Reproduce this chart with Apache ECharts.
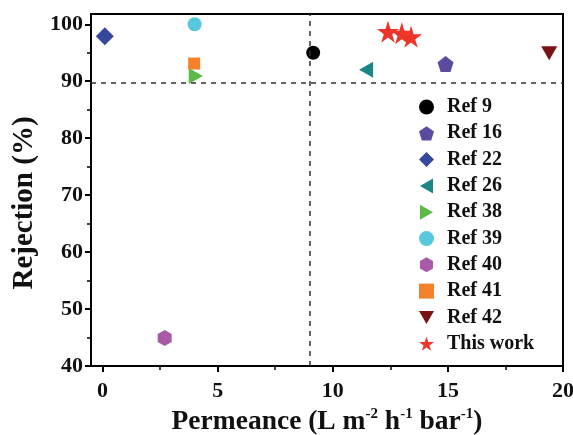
<!DOCTYPE html>
<html>
<head>
<meta charset="utf-8">
<script src="https://cdn.jsdelivr.net/npm/echarts@6/dist/echarts.min.js"></script>
<style>
html,body{margin:0;padding:0;background:#fff;}
#chart{width:573px;height:435px;}
</style>
</head>
<body>
<div id="chart"></div>
<script>
// ---- data (permeance, rejection) ----
const seriesNames = ['Ref 9','Ref 16','Ref 22','Ref 26','Ref 38','Ref 39','Ref 40','Ref 41','Ref 42','This work'];
const ref9  = [[9.15, 95.0]];
const ref16 = [[14.9, 93.0]];
const ref22 = [[0.1, 97.9]];
const ref26 = [[11.45, 92.0]];
const ref38 = [[4.05, 90.9]];
const ref39 = [[4.0, 100.0]];
const ref40 = [[2.7, 44.9]];
const ref41 = [[3.98, 93.1]];
const ref42 = [[19.4, 94.9]];
const thisWork = [[12.4, 98.7], [13.0, 98.4], [13.4, 97.8]];
const xTicks = [0, 5, 10, 15, 20];
const xMinorTicks = [2.5, 7.5, 12.5, 17.5];
const yTicks = [40, 50, 60, 70, 80, 90, 100];
const yMinorTicks = [45, 55, 65, 75, 85, 95];
const refLineX = 9;
const refLineY = 89.7;

// ---- styling ----
const FONT = 'Liberation Serif';
const P_STAR = 'path://M100,0 L122.45,69.1 L195.1,69.1 L136.3,111.8 L158.8,180.9 L100,138.2 L41.2,180.9 L63.7,111.8 L4.9,69.1 L77.55,69.1 Z';
const P_PENT = 'path://M100,0 L195.1,69.1 L158.8,180.9 L41.2,180.9 L4.9,69.1 Z';
const P_HEX = 'path://M100,0 L186.6,50 L186.6,150 L100,200 L13.4,150 L13.4,50 Z';
const P_LEFT = 'path://M0,100 L173,0 L173,200 Z';
const P_RIGHT = 'path://M0,0 L173,100 L0,200 Z';
const P_DOWN = 'path://M0,0 L200,0 L100,173 Z';

const defs = [
  {data: ref9,  symbol: 'circle',  size: 14, color: '#000000'},
  {data: ref16, symbol: P_PENT,    size: 16, color: '#5b4a9e'},
  {data: ref22, symbol: 'diamond', size: 18, color: '#34499c'},
  {data: ref26, symbol: P_LEFT,    size: [14, 16], color: '#1b8784'},
  {data: ref38, symbol: P_RIGHT,   size: [14, 16], color: '#5cbb46'},
  {data: ref39, symbol: 'circle',  size: 14, color: '#58c8dc'},
  {data: ref40, symbol: P_HEX,     size: [14, 16], color: '#a95aa6'},
  {data: ref41, symbol: 'rect',    size: 12, color: '#f5822a'},
  {data: ref42, symbol: P_DOWN,    size: [16, 14], color: '#7a1214'},
  {data: thisWork, symbol: P_STAR, size: 22, color: '#ef3529'}
];

const series = defs.map((d, i) => ({
  name: seriesNames[i],
  type: 'scatter',
  xAxisIndex: 0,
  yAxisIndex: 0,
  data: d.data,
  symbol: d.symbol,
  symbolSize: d.size,
  itemStyle: {color: d.color, opacity: 1},
  z: 3
}));
series[0].markLine = {
  silent: true,
  symbol: ['none', 'none'],
  label: {show: false},
  lineStyle: {color: '#333', type: [5, 5], width: 1.5},
  data: [{xAxis: refLineX}, {yAxis: refLineY}]
};

const X_MIN = -0.5, X_MAX = 20, Y_MIN = 40, Y_MAX = 101.8;
const labelFont = {fontFamily: FONT, fontWeight: 'bold', fontSize: 22, color: '#111'};

const chart = echarts.init(document.getElementById('chart'), null, {renderer: 'canvas'});
chart.setOption({
  animation: false,
  backgroundColor: '#fff',
  grid: {left: 91, right: 10, top: 14, bottom: 69, show: true, borderColor: '#000', borderWidth: 2,
         backgroundColor: 'transparent', containLabel: false, outerBoundsMode: 'none'},
  legend: {
    orient: 'vertical',
    left: 414,
    top: 92,
    itemWidth: 15,
    itemHeight: 15,
    itemGap: 6.3,
    data: seriesNames,
    textStyle: {fontFamily: FONT, fontWeight: 'bold', fontSize: 20, color: '#111', lineHeight: 20, padding: [0, 0, 0, 8]}
  },
  xAxis: [{
    type: 'value',
    min: X_MIN,
    max: X_MAX,
    name: 'Permeance (L m{s|-2} h{s|-1} bar{s|-1})',
    nameLocation: 'middle',
    nameGap: 37,
    nameTextStyle: {
      fontFamily: FONT, fontWeight: 'bold', fontSize: 27.5, color: '#111',
      rich: {s: {fontFamily: FONT, fontWeight: 'bold', fontSize: 15, color: '#111', verticalAlign: 'top', padding: [0, 0, 14, 0]}}
    },
    axisLine: {show: true, onZero: false, lineStyle: {color: '#000', width: 2}},
    axisTick: {show: true, inside: false, length: 6, customValues: xTicks, lineStyle: {color: '#000', width: 2}},
    axisLabel: Object.assign({margin: 14, customValues: xTicks}, labelFont),
    splitLine: {show: false}
  }, {
    type: 'value',
    min: X_MIN,
    max: X_MAX,
    position: 'bottom',
    axisLine: {show: false, onZero: false},
    axisTick: {show: true, inside: false, length: 4, customValues: xMinorTicks, lineStyle: {color: '#000', width: 1.5}},
    axisLabel: {show: false},
    splitLine: {show: false}
  }],
  yAxis: [{
    type: 'value',
    min: Y_MIN,
    max: Y_MAX,
    name: 'Rejection (%)',
    nameLocation: 'middle',
    nameGap: 52,
    nameTextStyle: {fontFamily: FONT, fontWeight: 'bold', fontSize: 29, color: '#111', padding: [0, 26, 0, 0]},
    axisLine: {show: true, onZero: false, lineStyle: {color: '#000', width: 2}},
    axisTick: {show: true, inside: false, length: 6, customValues: yTicks, lineStyle: {color: '#000', width: 2}},
    axisLabel: Object.assign({margin: 8, customValues: yTicks}, labelFont),
    splitLine: {show: false}
  }, {
    type: 'value',
    min: Y_MIN,
    max: Y_MAX,
    position: 'left',
    axisLine: {show: false, onZero: false},
    axisTick: {show: true, inside: false, length: 4, customValues: yMinorTicks, lineStyle: {color: '#000', width: 1.5}},
    axisLabel: {show: false},
    splitLine: {show: false}
  }],
  series: series
});
</script>
</body>
</html>
